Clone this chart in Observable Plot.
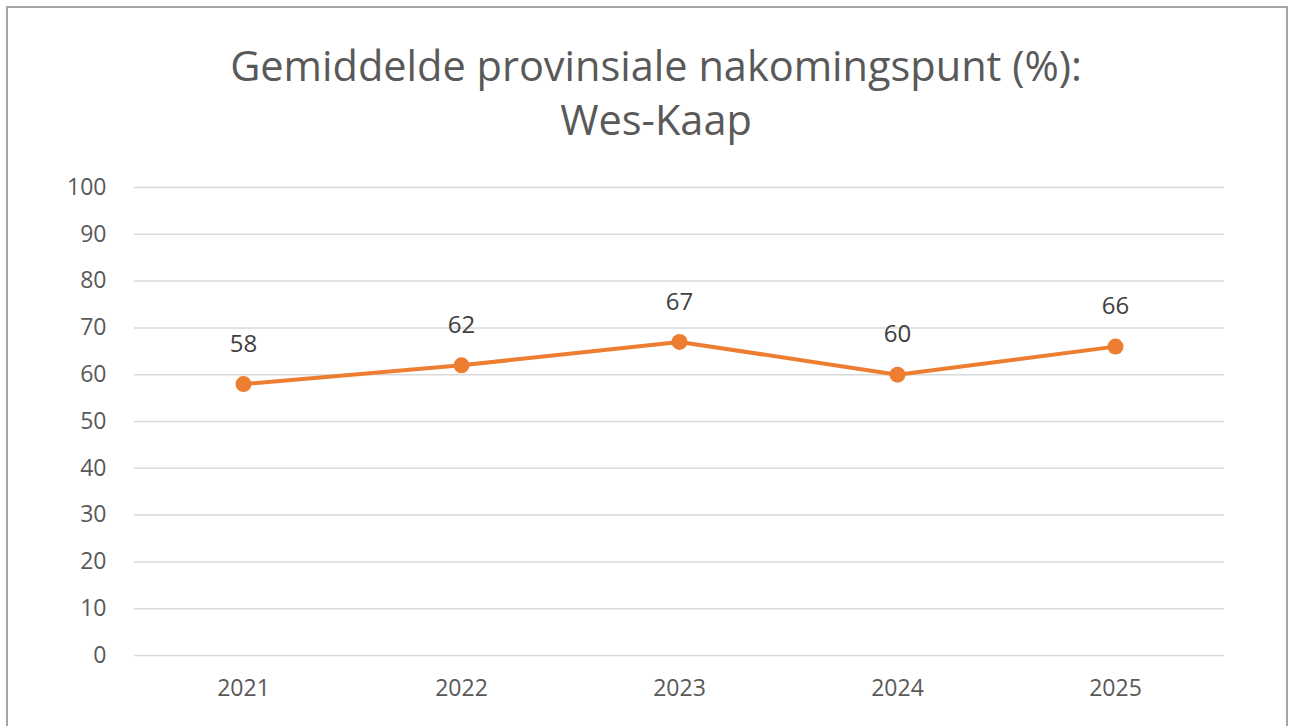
<!DOCTYPE html>
<html>
<head>
<meta charset="utf-8">
<script src="https://cdn.jsdelivr.net/npm/d3@7"></script>
<script src="https://cdn.jsdelivr.net/npm/@observablehq/plot@0.6"></script>
<style>
  html, body { margin: 0; padding: 0; background: #fff; }
  body { width: 1292px; height: 726px; position: relative; overflow: hidden; font-family: "Open Sans", sans-serif; }
  #frame { position: absolute; left: 6px; top: 6px; width: 1282px; height: 730px; border: 2px solid #a6a6a6; box-sizing: border-box; }
  #title { position: absolute; left: 0; width: 1312px; top: 38px; text-align: center; font-size: 41.5px; line-height: 54px; color: #595959; }
  #chart { position: absolute; left: 0; top: 150px; }
</style>
</head>
<body>
<div id="frame"></div>
<div id="title">Gemiddelde provinsiale nakomingspunt (%):<br>Wes-Kaap</div>
<div id="chart"></div>
<script>
const years = ["2021", "2022", "2023", "2024", "2025"];
const scores = [58, 62, 67, 60, 66];
const yTicks = [0, 10, 20, 30, 40, 50, 60, 70, 80, 90, 100];

const data = years.map((y, i) => ({year: y, value: scores[i]}));

const plot = Plot.plot({
  width: 1292,
  height: 570,
  marginLeft: 134,
  marginRight: 68,
  marginTop: 37,
  marginBottom: 65,
  style: {fontFamily: "Open Sans, sans-serif", fontSize: "23px", color: "#595959", background: "transparent"},
  x: {type: "point", domain: years, padding: 0.5, label: null},
  y: {domain: [0, 100], label: null},
  marks: [
    Plot.ruleY(yTicks, {stroke: "#d9d9d9", strokeWidth: 1.5}),
    Plot.axisY({ticks: yTicks, tickSize: 0, tickPadding: 28, fontSize: 23, fill: "#595959", label: null}),
    Plot.axisX({tickSize: 0, tickPadding: 24, fontSize: 23, fill: "#595959", label: null}),
    Plot.line(data, {x: "year", y: "value", stroke: "#ED7D31", strokeWidth: 4}),
    Plot.dot(data, {x: "year", y: "value", r: 8, fill: "#ED7D31", stroke: "none"}),
    Plot.text(data, {x: "year", y: "value", text: d => String(d.value), dy: -40, fontSize: 24, fill: "#404040"})
  ]
});
document.getElementById("chart").appendChild(plot);
</script>
</body>
</html>
